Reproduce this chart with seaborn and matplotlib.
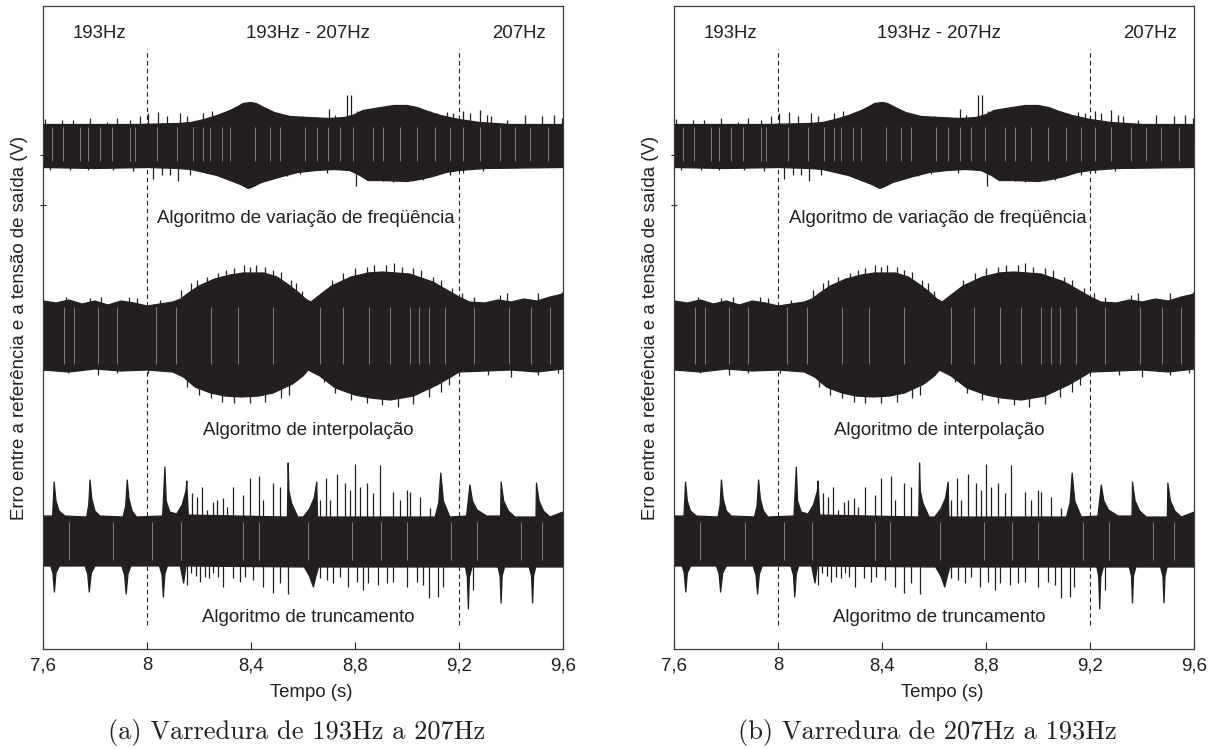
import numpy as np
import matplotlib
matplotlib.use("Agg")
import matplotlib.pyplot as plt
import seaborn as sns

# ---------------------------------------------------------------- axis text
tick_values = [7.6, 8.0, 8.4, 8.8, 9.2, 9.6]
tick_labels = ["7,6", "8", "8,4", "8,8", "9,2", "9,6"]
sweep_marks = [8.0, 9.2]
band_labels = ["193Hz", "193Hz - 207Hz", "207Hz"]
band_times = [7.817, 8.619, 9.431]
algorithm_names = ["Algoritmo de variação de freqüência",
                   "Algoritmo de interpolação",
                   "Algoritmo de truncamento"]
algorithm_times = [8.612, 8.619, 8.619]
captions = ["(a) Varredura de 193Hz a 207Hz", "(b) Varredura de 207Hz a 193Hz"]
x_title = "Tempo (s)"
y_title = "Erro entre a referência e a tensão de saída (V)"

# ------------------------------------------- frequency-variation algorithm
freq_up_t = [7.60, 7.95, 8.12, 8.17, 8.22, 8.27, 8.32, 8.35, 8.37, 8.40, 8.42,
             8.45, 8.49, 8.55, 8.62, 8.70, 8.76, 8.80, 8.83, 8.90, 8.95, 9.00,
             9.04, 9.08, 9.13, 9.20, 9.28, 9.40, 9.60]
freq_up_v = [2.1, 2.1, 2.2, 2.3, 2.6, 3.0, 3.5, 3.9, 4.2, 4.3, 4.2,
             3.8, 3.3, 2.9, 2.8, 2.7, 2.8, 3.1, 3.5, 3.8, 4.0, 4.0,
             3.8, 3.4, 3.0, 2.6, 2.3, 2.1, 2.1]
freq_lo_t = [7.60, 7.80, 8.00, 8.12, 8.17, 8.22, 8.27, 8.32, 8.36, 8.39, 8.41,
             8.44, 8.48, 8.52, 8.58, 8.65, 8.72, 8.78, 8.82, 8.85, 8.90, 9.00,
             9.05, 9.10, 9.15, 9.20, 9.30, 9.60]
freq_lo_v = [-2.2, -2.3, -2.2, -2.3, -2.4, -2.7, -3.0, -3.5, -3.9, -4.3, -4.1,
             -3.7, -3.4, -3.1, -2.7, -2.5, -2.4, -2.5, -3.0, -3.5, -3.5, -3.6,
             -3.4, -3.1, -2.7, -2.5, -2.3, -2.2]
freq_hair_t = [7.608, 7.672, 7.715, 7.781, 7.845, 7.883, 7.935, 7.973, 8.004,
               8.042, 8.076, 8.127, 8.153, 8.215, 8.249, 8.601, 8.650, 8.700,
               8.723, 8.768, 8.785, 8.807, 8.870, 8.903, 8.973, 9.004, 9.050,
               9.088, 9.114, 9.153, 9.178, 9.217, 9.242, 9.281, 9.306, 9.325,
               9.385, 9.453, 9.520, 9.565, 9.595,
               7.627, 7.704, 7.773, 7.869, 7.946, 8.022, 8.057, 8.088, 8.118,
               8.165, 8.447, 8.537, 8.588, 8.691, 8.803, 8.909, 8.947, 9.024,
               9.063, 9.165, 9.217, 9.293]
freq_hair_v = [2.65, 2.5, 2.55, 2.75, 2.35, 2.7, 2.55, 2.9, 3.25,
               3.35, 2.95, 3.25, 2.9, 3.25, 3.4, 2.9, 2.85, 3.65,
               3.05, 5.05, 5.05, 3.4, 3.6, 3.7, 4.05, 3.9, 3.55,
               3.4, 3.2, 3.3, 3.2, 3.4, 3.2, 3.5, 3.05, 2.9,
               2.55, 3.05, 2.9, 3.05, 2.7,
               -2.5, -2.5, -2.45, -2.5, -2.6, -3.35, -2.95, -2.95, -3.6,
               -2.95, -3.6, -3.1, -2.85, -2.8, -4.05, -3.6, -3.7, -3.6,
               -3.45, -2.95, -2.8, -2.6]
freq_streak_t = [7.633, 7.677, 7.742, 7.773, 7.819, 7.864, 7.935, 7.954, 8.037,
                 8.114, 8.177, 8.215, 8.242, 8.287, 8.319, 8.415, 8.473, 8.512,
                 8.608, 8.653, 8.697, 8.742, 8.793, 8.870, 8.909, 8.973, 9.037,
                 9.108, 9.165, 9.217, 9.281, 9.358, 9.415, 9.473, 9.542]

# ------------------------------------------------- interpolation algorithm
interp_up_t = [7.60, 7.65, 7.70, 7.75, 7.80, 7.85, 7.90, 7.95, 8.00, 8.05, 8.10,
               8.13, 8.16, 8.20, 8.26, 8.32, 8.37, 8.45, 8.50, 8.545, 8.58, 8.61,
               8.63, 8.66, 8.71, 8.785, 8.85, 8.905, 9.01, 9.10, 9.16, 9.20,
               9.24, 9.30, 9.35, 9.40, 9.45, 9.50, 9.55, 9.60]
interp_up_v = [3.5, 3.3, 3.6, 3.2, 3.5, 3.1, 3.5, 3.3, 3.0, 3.2, 3.4,
               3.7, 4.3, 5.0, 5.7, 6.1, 6.3, 6.3, 5.9, 5.1, 4.4, 3.7,
               3.4, 4.0, 5.0, 5.9, 6.3, 6.4, 6.2, 5.4, 4.5, 3.9,
               3.4, 3.3, 3.6, 3.4, 3.7, 3.5, 3.9, 4.2]
interp_lo_t = [7.60, 7.70, 7.80, 7.90, 8.00, 8.10, 8.14, 8.185, 8.245, 8.30,
               8.365, 8.43, 8.485, 8.56, 8.60, 8.62, 8.665, 8.725, 8.80, 8.86,
               8.935, 9.025, 9.115, 9.175, 9.20, 9.30, 9.40, 9.50, 9.60]
interp_lo_v = [-3.4, -3.6, -3.3, -3.5, -3.4, -3.6, -4.1, -5.1, -5.7, -6.0,
               -6.1, -6.0, -5.7, -4.8, -4.0, -3.4, -4.0, -5.2, -5.9, -6.2,
               -6.4, -6.0, -4.9, -4.0, -3.6, -3.5, -3.4, -3.6, -3.3]
interp_hair_t = [8.132, 8.170, 8.192, 8.230, 8.275, 8.305, 8.335, 8.373, 8.395,
                 8.418, 8.455, 8.485, 8.515, 8.553, 8.575, 8.598,
                 8.680, 8.710, 8.755, 8.800, 8.845, 8.875, 8.920, 8.950, 8.980,
                 9.025, 9.055, 9.100, 9.130, 9.175, 9.213,
                 7.690, 7.780, 7.825, 7.930, 7.960, 8.050, 9.258, 9.356, 9.385,
                 9.505, 9.595,
                 8.155, 8.200, 8.245, 8.290, 8.335, 8.395, 8.455, 8.515, 8.545,
                 8.680, 8.725, 8.785, 8.845, 8.905, 8.965, 9.025, 9.085, 9.130,
                 9.160,
                 7.697, 7.810, 7.885, 8.005, 9.310, 9.400, 9.505, 9.581]
interp_hair_v = [4.6, 5.3, 5.6, 5.9, 6.3, 6.6, 6.8, 7.1, 6.9,
                 7.1, 6.9, 6.6, 6.4, 5.6, 5.3, 4.5,
                 4.3, 5.6, 6.3, 6.8, 6.9, 7.1, 7.1, 7.3, 6.9,
                 6.8, 6.6, 5.9, 5.6, 4.8, 4.3,
                 3.9, 3.8, 3.9, 3.9, 3.8, 3.6, 3.9, 4.1, 4.3,
                 4.3, 4.4,
                 -5.1, -5.9, -6.2, -6.6, -6.7, -6.7, -6.6, -6.2, -5.9,
                 -4.6, -5.7, -6.4, -6.7, -6.9, -7.1, -6.8, -6.1, -5.6,
                 -4.9,
                 -3.7, -3.9, -3.7, -3.7, -3.9, -4.1, -3.9, -3.7]
interp_streak_t = [7.681, 7.719, 7.810, 7.885, 8.035, 8.110, 8.245, 8.350,
                   8.485, 8.665, 8.754, 8.853, 8.935, 9.010, 9.048, 9.085,
                   9.145, 9.258, 9.392, 9.475, 9.550]

# --------------------------------------------------- truncation algorithm
trunc_up_t = [7.600, 7.637, 7.643, 7.650, 7.662, 7.685,
              7.768, 7.776, 7.781, 7.788, 7.800, 7.819,
              7.908, 7.918, 7.924, 7.931, 7.943, 7.960,
              8.060, 8.069, 8.074, 8.088,
              8.114, 8.135, 8.150, 8.153, 8.159,
              8.540, 8.543, 8.546, 8.556, 8.580,
              8.601, 8.625, 8.643, 8.653, 8.656,
              9.108, 9.122, 9.130, 9.140, 9.165,
              9.229, 9.242, 9.252, 9.270, 9.306,
              9.360, 9.362, 9.372, 9.390, 9.415,
              9.496, 9.498, 9.508, 9.525, 9.550, 9.600]
trunc_up_v = [2.5, 2.5, 5.9, 4.0, 3.0, 2.5,
              2.4, 3.6, 6.1, 4.2, 3.0, 2.5,
              2.4, 3.5, 6.1, 4.2, 3.0, 2.4,
              2.5, 7.4, 4.0, 2.9,
              2.7, 3.6, 5.0, 6.0, 2.6,
              2.4, 7.8, 5.0, 3.8, 2.4,
              2.4, 3.2, 4.3, 5.9, 2.4,
              2.4, 3.8, 6.8, 4.0, 2.4,
              2.5, 5.6, 4.0, 3.1, 2.5,
              2.5, 5.9, 4.0, 3.0, 2.4,
              2.4, 5.8, 4.0, 3.0, 2.4, 2.9]
trunc_lo_t = [7.600, 7.630, 7.638, 7.644, 7.650, 7.663,
              7.762, 7.772, 7.778, 7.786, 7.800,
              7.903, 7.914, 7.920, 7.927, 7.938,
              8.048, 8.058, 8.063, 8.069, 8.078,
              8.128, 8.141, 8.150,
              8.605, 8.625, 8.640, 8.650, 8.660,
              9.225, 9.232, 9.236, 9.240, 9.250,
              9.350, 9.358, 9.362, 9.366, 9.375,
              9.470, 9.479, 9.483, 9.487, 9.495, 9.600]
trunc_lo_v = [-2.5, -2.5, -3.2, -5.1, -3.2, -2.5,
              -2.5, -3.3, -5.1, -3.2, -2.5,
              -2.5, -3.4, -5.3, -3.3, -2.5,
              -2.5, -3.4, -5.6, -3.3, -2.5,
              -2.5, -4.2, -2.5,
              -2.6, -3.5, -4.6, -3.5, -2.6,
              -2.6, -3.6, -6.8, -3.6, -2.6,
              -2.6, -3.5, -6.2, -3.5, -2.6,
              -2.6, -3.5, -6.2, -3.5, -2.6, -2.6]
trunc_hair_t = [8.173, 8.192, 8.210, 8.230, 8.253, 8.268, 8.291, 8.307, 8.332,
                8.370, 8.396, 8.432, 8.447, 8.483, 8.512, 8.665, 8.688, 8.704,
                8.730, 8.762, 8.781, 8.800, 8.819, 8.845, 8.870, 8.896, 8.947,
                8.973, 8.999, 9.012, 9.050, 9.088,
                8.153, 8.169, 8.188, 8.204, 8.223, 8.240, 8.255, 8.272, 8.293,
                8.330, 8.358, 8.377, 8.409, 8.447, 8.483, 8.512, 8.543, 8.665,
                8.691, 8.717, 8.742, 8.774, 8.807, 8.832, 8.851, 8.890, 8.922,
                8.947, 8.999, 9.037, 9.063, 9.086, 9.120, 9.138, 9.255]
trunc_hair_v = [4.8, 4.4, 5.4, 3.1, 3.9, 4.1, 4.3, 3.4, 5.4,
                4.6, 6.3, 6.5, 4.1, 5.8, 5.4, 4.1, 6.3, 4.1,
                6.7, 5.8, 5.1, 7.7, 5.4, 5.8, 4.8, 7.6, 4.9,
                4.1, 5.1, 4.9, 4.4, 3.3,
                -4.4, -3.2, -3.5, -4.1, -3.6, -3.7, -3.2, -3.6, -4.6,
                -3.7, -4.1, -3.6, -3.9, -4.6, -5.2, -4.2, -5.3, -3.7,
                -3.9, -4.2, -3.6, -4.6, -4.1, -4.9, -4.2, -4.4, -4.2,
                -4.1, -4.6, -4.1, -4.4, -5.7, -5.6, -4.6, -4.9]
trunc_streak_t = [7.70, 7.87, 8.02, 8.13, 8.37, 8.43, 8.62, 8.79, 8.90,
                  9.00, 9.17, 9.27, 9.44, 9.52]

# ------------------------------------------------------------------ styling
INK = "#231f20"
STREAK = "#8c8c8c"
FIG_W, FIG_H, DPI = 12.21, 7.49, 100
TXT = 13.4

sns.set_theme(style="white")
plt.rcParams["font.family"] = ["Liberation Sans", "DejaVu Sans"]
plt.rcParams["axes.edgecolor"] = "#3c3c3c"
plt.rcParams["axes.linewidth"] = 0.9

fig = plt.figure(figsize=(FIG_W, FIG_H), dpi=DPI)
panel_rects = [[0.0352, 0.1335, 0.4259, 0.8585],
               [0.5523, 0.1335, 0.4259, 0.8585]]

# vertical placement of each trace (centre line) and of its title
trace_offsets = [50.35, 31.3, 10.8]
title_heights = [43.0, 21.9, 3.2]
streak_spans = [(-1.6, 1.8), (-2.8, 2.9), (-1.9, 1.9)]

traces = [
    (freq_up_t, freq_up_v, freq_lo_t, freq_lo_v, freq_hair_t, freq_hair_v, freq_streak_t),
    (interp_up_t, interp_up_v, interp_lo_t, interp_lo_v, interp_hair_t, interp_hair_v, interp_streak_t),
    (trunc_up_t, trunc_up_v, trunc_lo_t, trunc_lo_v, trunc_hair_t, trunc_hair_v, trunc_streak_t),
]


def draw_trace(ax, offset, up_t, up_v, lo_t, lo_v, hair_t, hair_v, streak_t, span):
    up_t, up_v = np.asarray(up_t), np.asarray(up_v) + offset
    lo_t, lo_v = np.asarray(lo_t), np.asarray(lo_v) + offset
    ax.fill(np.r_[up_t, lo_t[::-1]], np.r_[up_v, lo_v[::-1]],
            color=INK, lw=0, zorder=2)
    sns.lineplot(x=up_t, y=up_v, ax=ax, color=INK, lw=0.9,
                 estimator=None, sort=False, zorder=3)
    sns.lineplot(x=lo_t, y=lo_v, ax=ax, color=INK, lw=0.9,
                 estimator=None, sort=False, zorder=3)
    ax.vlines(hair_t, offset, offset + np.asarray(hair_v),
              color=INK, lw=0.9, zorder=3)
    ax.vlines(streak_t, offset + span[0], offset + span[1],
              color=STREAK, lw=0.6, zorder=4)


for k, rect in enumerate(panel_rects):
    ax = fig.add_axes(rect)
    for (up_t, up_v, lo_t, lo_v, h_t, h_v, s_t), off, span in zip(traces, trace_offsets, streak_spans):
        draw_trace(ax, off, up_t, up_v, lo_t, lo_v, h_t, h_v, s_t, span)

    ax.vlines(sweep_marks, 2.4, 60.0, colors=INK, lw=0.8,
              linestyles=(0, (4, 3)), zorder=5)

    for txt, t in zip(band_labels, band_times):
        ax.text(t, 61.5, txt, ha="center", va="center", fontsize=TXT, color=INK)
    for txt, t, h in zip(algorithm_names, algorithm_times, title_heights):
        ax.text(t, h, txt, ha="center", va="center", fontsize=TXT, color=INK,
                zorder=6)

    ax.set_xlim(7.6, 9.6)
    ax.set_ylim(0, 64.3)
    ax.set_xticks(tick_values)
    ax.set_xticklabels(tick_labels)
    ax.set_yticks([49.4, 44.4])
    ax.set_yticklabels([])
    ax.tick_params(axis="x", direction="in", length=5, width=0.8, pad=6,
                   labelsize=TXT, colors=INK, bottom=True)
    ax.tick_params(axis="y", direction="inout", length=5, width=0.8, left=True)
    for s in ax.spines.values():
        s.set_visible(True)

    ax.set_xlabel(x_title, fontsize=TXT, color=INK)
    ax.xaxis.set_label_coords(0.516, -0.0669)
    ax.xaxis.label.set_va("center")
    ax.set_ylabel(y_title, fontsize=TXT, color=INK)
    ax.yaxis.set_label_coords(-0.046, 0.5)
    ax.yaxis.label.set_va("center")

    ax.text(0.487, -0.1306, captions[k], transform=ax.transAxes,
            ha="center", va="center", fontsize=19, family="cmr10",
            color=INK)

fig.savefig("out.png", dpi=DPI)
